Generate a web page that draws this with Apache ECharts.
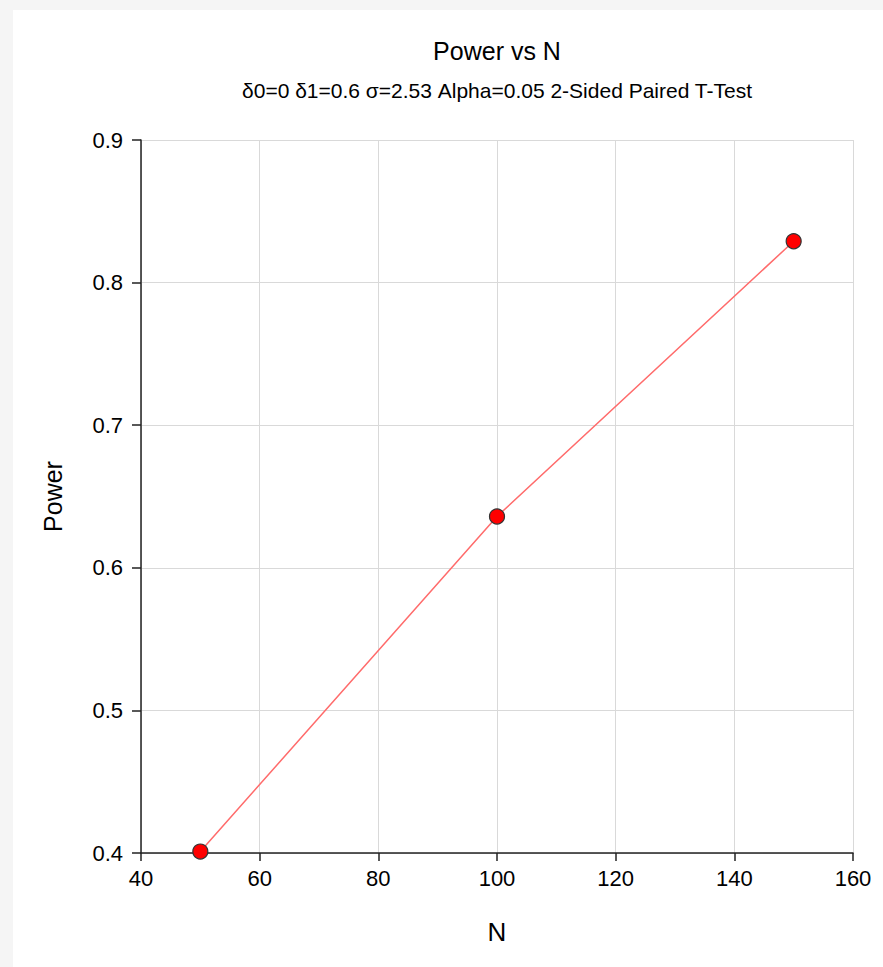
<!DOCTYPE html>
<html>
<head>
<meta charset="utf-8">
<script src="https://cdn.jsdelivr.net/npm/echarts@6/dist/echarts.min.js"></script>
<style>
html,body{margin:0;padding:0;background:#f5f5f5;}
#c{width:883px;height:967px;}
</style>
</head>
<body>
<div id="c"></div>
<script>
var titleText = 'Power vs N';
var subtitleText = 'δ0=0 δ1=0.6 σ=2.53 Alpha=0.05 2-Sided Paired T-Test';
var xName = 'N';
var yName = 'Power';
var nValues = [50, 100, 150];
var powerValues = [0.401, 0.636, 0.829];

var chart = echarts.init(document.getElementById('c'), null, {renderer: 'svg'});
var font = 'Liberation Sans, Arial, sans-serif';
chart.setOption({
  backgroundColor: '#f5f5f5',
  animation: false,
  graphic: [{
    type: 'rect', left: 13, top: 10, z: -10,
    shape: {width: 870, height: 957},
    style: {fill: '#ffffff'}
  }, {
    type: 'text', x: 497, y: 51, z: 10,
    style: {text: titleText, fontFamily: font, fontSize: 25, fill: '#000',
      textAlign: 'center', textVerticalAlign: 'middle'}
  }, {
    type: 'text', x: 497, y: 90, z: 10,
    style: {text: subtitleText, fontFamily: font, fontSize: 21, fill: '#000',
      textAlign: 'center', textVerticalAlign: 'middle'}
  }],
  grid: {left: 141, right: 30, top: 140, bottom: 114, containLabel: false},
  xAxis: {
    type: 'value', min: 40, max: 160, interval: 20,
    name: xName, nameLocation: 'middle', nameGap: 66,
    nameTextStyle: {fontFamily: font, fontSize: 26, color: '#000'},
    axisLine: {show: true, onZero: false, lineStyle: {color: '#222', width: 1.5}},
    axisTick: {show: true, inside: false, length: 8, lineStyle: {color: '#222', width: 1.5}},
    axisLabel: {fontFamily: font, fontSize: 22, color: '#000', margin: 14},
    splitLine: {show: true, lineStyle: {color: '#d9d9d9', width: 1}}
  },
  yAxis: {
    type: 'value', min: 0.4, max: 0.9, interval: 0.1,
    name: yName, nameLocation: 'middle', nameGap: 76, nameRotate: 90,
    nameTextStyle: {fontFamily: font, fontSize: 25, color: '#000'},
    axisLine: {show: true, onZero: false, lineStyle: {color: '#222', width: 1.5}},
    axisTick: {show: true, inside: false, length: 9, lineStyle: {color: '#222', width: 1.5}},
    axisLabel: {fontFamily: font, fontSize: 22, color: '#000', margin: 18,
      padding: [0, 0, 6, 0],
      formatter: function (v) { return (Math.round(v * 10) / 10).toString(); }},
    splitLine: {show: true, lineStyle: {color: '#d9d9d9', width: 1}}
  },
  series: [{
    type: 'line',
    data: nValues.map(function (n, i) { return [n, powerValues[i]]; }),
    symbol: 'circle', symbolSize: 15,
    lineStyle: {color: '#ff6b6b', width: 1.5},
    itemStyle: {color: '#ff0000', borderColor: '#333', borderWidth: 1.2},
    clip: false, z: 5
  }]
});
</script>
</body>
</html>
